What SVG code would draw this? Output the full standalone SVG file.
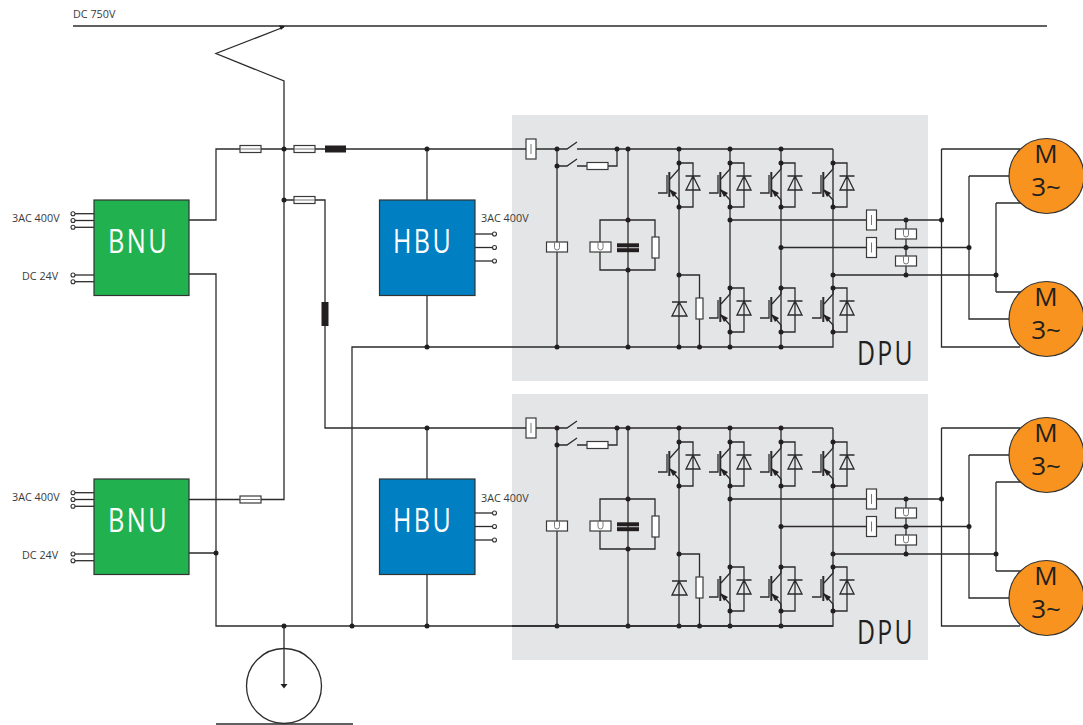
<svg xmlns="http://www.w3.org/2000/svg" width="1083" height="725" viewBox="0 0 1083 725">
<style>
.w{fill:none;stroke:#2b2b2b;stroke-width:1.3}
.n{fill:#231f20;stroke:none}
.bx{fill:#fff;stroke:#3a3a3a;stroke-width:1.2}
.in{fill:none;stroke:#777;stroke-width:1}
.t{fill:#fff;stroke:#333;stroke-width:1.1}
.blk{fill:#231f20;stroke:none}
.lb{font-family:"Open Sans","Noto Sans",sans-serif;font-size:10.8px;fill:#3a3a3a}
.big{font-family:"Open Sans","Noto Sans",sans-serif;font-size:32px;letter-spacing:3px}
.wt{fill:#fff}
.dk{fill:#231f20}
.mt{font-family:"Open Sans","Noto Sans",sans-serif;font-size:26px;fill:#231f20;text-anchor:middle}
.mo{fill:#f7931e;stroke:#333;stroke-width:1.2}
.dpu{fill:#e4e5e7}
.gr{fill:#22b14f;stroke:#333;stroke-width:1.2}
.bl{fill:#0080c2;stroke:#333;stroke-width:1.2}
</style>
<defs>
<g id="fh"><rect class="bx" x="-10.5" y="-3.5" width="21" height="7"/><path class="in" d="M-10,0H10"/></g>
<g id="fv"><rect class="bx" x="-5" y="-10" width="10" height="20"/><path class="in" d="M0,-5V5"/></g>
<g id="fu"><rect class="bx" x="-10.5" y="-5" width="21" height="10"/><path class="in" d="M-2.5,-5V0.5A2.5,2.5 0 0 0 2.5,0.5V-5"/></g>
<g id="ig">
<path class="w" d="M0,0V6L-9,16M-9,27L0,37V44M-21,30H-12V12M0,0H14V44H0M6.5,13H21.5M14,13L7,27H21Z"/>
<path class="w" style="stroke-width:2" d="M-9.7,9V34"/>
<polygon class="n" points="-10,26 -2,30 -6,34"/>
<circle class="n" cx="0" cy="0" r="2.5"/><circle class="n" cx="0" cy="44" r="2.5"/>
</g>
<g id="circuit">
<path class="w" d="M512,347H833V275M536,149H567L577,142M577,149H833M557,149V347M557,166H567L577,159M577,166H617V149M628,149V347M600,220H655V270H600ZM679,149V347M730,149V347M781,149V347M833,149V347M730,220H867M781,247.5H867M833,275H928M906,220V275M679,275H699.5V347M672,302H687M679,302L672,316H687Z"/>
<use href="#ig" x="679" y="163"/><use href="#ig" x="730" y="163"/><use href="#ig" x="781" y="163"/><use href="#ig" x="833" y="163"/>
<use href="#ig" x="730" y="288"/><use href="#ig" x="781" y="288"/><use href="#ig" x="833" y="288"/>
<rect class="bx" x="696" y="298" width="7" height="21"/>
<use href="#fv" x="531" y="149"/>
<rect class="bx" x="587" y="162.500" width="21" height="7"/>
<use href="#fu" x="557" y="247"/><use href="#fu" x="600.500" y="247"/>
<rect class="blk" x="617" y="243.300" width="22" height="4"/><rect class="blk" x="617" y="248.200" width="22" height="4"/>
<rect class="bx" x="652" y="237" width="7" height="21"/>
<use href="#fv" x="871.500" y="220"/><use href="#fv" x="871.500" y="247.500"/>
<use href="#fu" x="906" y="234"/><use href="#fu" x="906" y="261"/>
<g class="n">
<circle cx="557" cy="149" r="2.500"/><circle cx="557" cy="166" r="2.500"/><circle cx="617" cy="149" r="2.500"/><circle cx="628" cy="149" r="2.500"/><circle cx="679" cy="149" r="2.500"/><circle cx="730" cy="149" r="2.500"/><circle cx="781" cy="149" r="2.500"/>
<circle cx="628" cy="220" r="2.500"/><circle cx="628" cy="270" r="2.500"/>
<circle cx="730" cy="220" r="2.500"/><circle cx="781" cy="247.500" r="2.500"/><circle cx="833" cy="275" r="2.500"/><circle cx="679" cy="275" r="2.500"/>
<circle cx="906" cy="220" r="2.500"/><circle cx="906" cy="247.500" r="2.500"/><circle cx="906" cy="275" r="2.500"/>
<circle cx="557" cy="347" r="2.500"/><circle cx="628" cy="347" r="2.500"/><circle cx="679" cy="347" r="2.500"/><circle cx="699.500" cy="347" r="2.500"/><circle cx="730" cy="347" r="2.500"/><circle cx="781" cy="347" r="2.500"/>
</g>
</g>
<g id="term"><path class="w" d="M0,0H-20"/><circle class="t" cx="-21" cy="0" r="2"/></g>
<g id="termr"><path class="w" d="M0,0H18"/><circle class="t" cx="19.500" cy="0" r="2"/></g>
</defs>

<g id="dpu1">
<rect class="dpu" x="512" y="115" width="416" height="266"/>
<use href="#circuit"/>
<text class="big dk" x="857" y="365" textLength="58" lengthAdjust="spacingAndGlyphs">DPU</text>
</g>
<g id="dpu2">
<rect class="dpu" x="512" y="394" width="416" height="266"/>
<use href="#circuit" y="279"/>
<text class="big dk" x="857" y="644" textLength="58" lengthAdjust="spacingAndGlyphs">DPU</text>
</g>

<g id="connectors">
<path class="w" d="M73,26H1047"/>
<path class="w" d="M189,220H216V149H526M284,27L216,53.500L284,81V499.500H189M284,200H325V428H526M189,274H216V626H833M189,553H216M352,626V347H512"/>
<path class="w" d="M427,149V200M427,295V347M427,428V479M427,574V626M284,626V684"/>
<polygon class="n" points="279,25.500 285,26 281,30"/>
<polygon class="n" points="280.500,684 287.500,684 284,688.500"/>
<path class="w" d="M216,724H353"/>
<circle class="w" cx="284" cy="686" r="37.500"/>
<path class="w" d="M877,220H941.500M941.500,149V347H1020M941.500,149H1020M877,247.500H969M969,176V319H1012M969,176H1012M928,275H996M996,203V292M996,203H1022M996,292H1022"/>
<path class="w" d="M877,499H941.500M941.500,428V626H1020M941.500,428H1020M877,526.500H969M969,455V598H1012M969,455H1012M928,554H996M996,482V571M996,482H1022M996,571H1022"/>
<use href="#fh" x="250.500" y="149"/><use href="#fh" x="304.500" y="149"/><use href="#fh" x="304.500" y="200"/><use href="#fh" x="250.500" y="499.500"/>
<rect class="blk" x="325" y="145.500" width="21" height="7"/>
<rect class="blk" x="321.500" y="302" width="7" height="24"/>
<g class="n">
<circle cx="284" cy="149" r="2.500"/><circle cx="284" cy="200" r="2.500"/><circle cx="427" cy="149" r="2.500"/><circle cx="427" cy="347" r="2.500"/><circle cx="427" cy="428" r="2.500"/><circle cx="427" cy="626" r="2.500"/><circle cx="216" cy="553" r="2.500"/><circle cx="284" cy="626" r="2.500"/><circle cx="352" cy="626" r="2.500"/>
<circle cx="941.500" cy="220" r="2.500"/><circle cx="969" cy="247.500" r="2.500"/><circle cx="996" cy="275" r="2.500"/>
<circle cx="941.500" cy="499" r="2.500"/><circle cx="969" cy="526.500" r="2.500"/><circle cx="996" cy="554" r="2.500"/>
</g>
</g>

<text class="lb" x="73" y="18">DC 750V</text>

<g id="bnu1">
<use href="#term" x="94" y="213.700"/><use href="#term" x="94" y="220.500"/><use href="#term" x="94" y="227.300"/><use href="#term" x="94" y="275"/><use href="#term" x="94" y="281.700"/>
<rect class="gr" x="94" y="200" width="95" height="95.500"/>
<text class="big wt" x="108" y="253" textLength="61" lengthAdjust="spacingAndGlyphs">BNU</text>
<text class="lb" x="12" y="222">3AC 400V</text>
<text class="lb" x="22" y="280">DC 24V</text>
</g>
<g id="bnu2">
<use href="#term" x="94" y="492.700"/><use href="#term" x="94" y="499.500"/><use href="#term" x="94" y="506.300"/><use href="#term" x="94" y="554"/><use href="#term" x="94" y="560.700"/>
<rect class="gr" x="94" y="479" width="95" height="95.500"/>
<text class="big wt" x="108" y="532" textLength="61" lengthAdjust="spacingAndGlyphs">BNU</text>
<text class="lb" x="12" y="501">3AC 400V</text>
<text class="lb" x="22" y="559">DC 24V</text>
</g>
<g id="hbu1">
<use href="#termr" x="475" y="234"/><use href="#termr" x="475" y="247.500"/><use href="#termr" x="475" y="261"/>
<rect class="bl" x="379.500" y="200" width="95.500" height="95.500"/>
<text class="big wt" x="393" y="253" textLength="60" lengthAdjust="spacingAndGlyphs">HBU</text>
<text class="lb" x="481" y="222">3AC 400V</text>
</g>
<g id="hbu2">
<use href="#termr" x="475" y="513"/><use href="#termr" x="475" y="526.500"/><use href="#termr" x="475" y="540"/>
<rect class="bl" x="379.500" y="479" width="95.500" height="95.500"/>
<text class="big wt" x="393" y="532" textLength="60" lengthAdjust="spacingAndGlyphs">HBU</text>
<text class="lb" x="481" y="502">3AC 400V</text>
</g>
<g id="m1"><circle class="mo" cx="1046.500" cy="176" r="37.500"/><text class="mt" x="1046" y="163">M</text><text class="mt" x="1046" y="196">3~</text></g>
<g id="m2"><circle class="mo" cx="1046.500" cy="319" r="37.500"/><text class="mt" x="1046" y="306">M</text><text class="mt" x="1046" y="339">3~</text></g>
<g id="m3"><circle class="mo" cx="1046.500" cy="455" r="37.500"/><text class="mt" x="1046" y="442">M</text><text class="mt" x="1046" y="475">3~</text></g>
<g id="m4"><circle class="mo" cx="1046.500" cy="598" r="37.500"/><text class="mt" x="1046" y="585">M</text><text class="mt" x="1046" y="618">3~</text></g>
</svg>
